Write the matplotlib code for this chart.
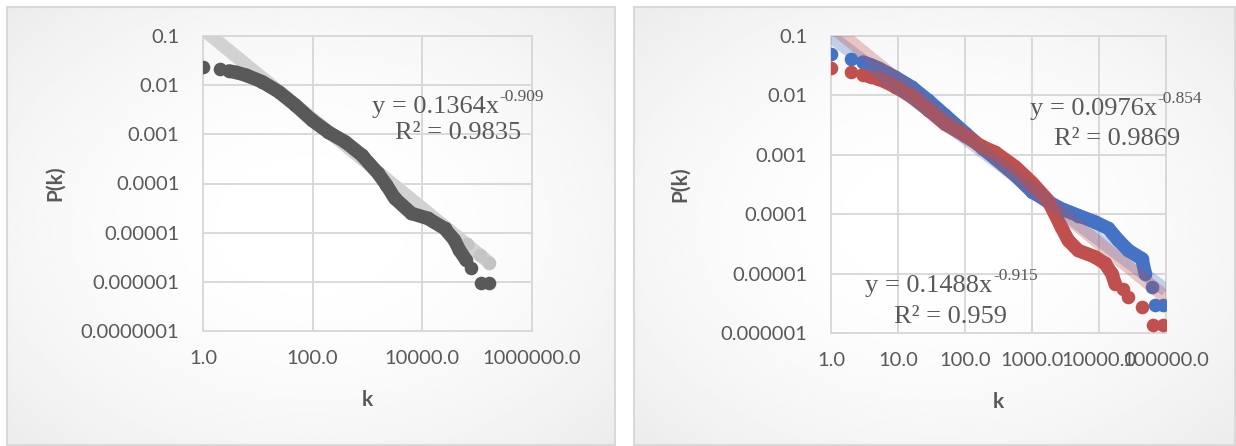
import numpy as np
import matplotlib
matplotlib.use("Agg")
import matplotlib.pyplot as plt
from matplotlib.patches import Rectangle
from matplotlib.ticker import NullLocator, FixedLocator, FixedFormatter

# ---------------- data ----------------
# left chart: degree distribution of the whole network
all_k = [1, 2, 3, 4, 5.96, 12.0, 23.9, 48.1, 96.6, 194, 389, 782, 1560, 2220,
         3140, 6310, 12600, 25400, 38500, 47500, 62800, 77400, 118000, 166000]
all_p = [0.0237, 0.0213, 0.0194, 0.0182, 0.0161, 0.0117, 0.00736, 0.00394,
         0.00195, 0.00110, 7.08e-4, 3.79e-4, 1.61e-4, 9.3e-5, 5.0e-5, 2.47e-5,
         1.95e-5, 1.22e-5, 7.1e-6, 4.4e-6, 2.77e-6, 1.87e-6, 9.3e-7, 9.3e-7]
all_fit = (0.1364, -0.909, 0.9835)
all_fit_kmax = 166000
all_fit_marks_k = [64000, 114000, 166000]

# right chart: two sub-networks
blue_k = [1, 2, 3, 4, 5.1, 9, 16, 28, 50, 100, 178, 282, 562, 1000, 1740,
          2750, 4900, 8710, 13800, 19500, 27500, 43700, 49000, 61000, 68400,
          91200]
blue_p = [0.0504, 0.0414, 0.0363, 0.0324, 0.0288, 0.0204, 0.0138, 0.0083,
          0.00468, 0.00234, 0.00132, 8.7e-4, 4.5e-4, 2.4e-4, 1.62e-4, 1.23e-4,
          9.5e-5, 7.4e-5, 5.75e-5, 3.63e-5, 2.45e-5, 1.78e-5, 1.0e-5, 5.9e-6,
          2.92e-6, 2.92e-6]
red_k = [1, 2, 3, 4, 5.1, 9, 16, 28, 50, 100, 178, 282, 562, 1000, 1740,
         2750, 3470, 4900, 8710, 12300, 15500, 17400, 22900, 27500, 43700,
         64600, 91200]
red_p = [0.0286, 0.0250, 0.0224, 0.0204, 0.0191, 0.0141, 0.0095, 0.00575,
         0.00331, 0.00209, 0.00138, 0.00110, 6.3e-4, 3.4e-4, 1.70e-4, 6.0e-5,
         3.63e-5, 2.45e-5, 1.91e-5, 1.48e-5, 1.0e-5, 6.8e-6, 5.6e-6, 4.0e-6,
         2.75e-6, 1.35e-6, 1.35e-6]
blue_fit = (0.0976, -0.854, 0.9869)
red_fit = (0.1488, -0.915, 0.959)
right_fit_kmax = 100000

left_xticks = [1, 100, 10000, 1000000]
left_xlabels = ["1.0", "100.0", "10000.0", "1000000.0"]
left_yticks = [1e-7, 1e-6, 1e-5, 1e-4, 1e-3, 1e-2, 1e-1]
left_ylabels = ["0.0000001", "0.000001", "0.00001", "0.0001", "0.001", "0.01", "0.1"]
right_xticks = [1, 10, 100, 1000, 10000, 100000]
right_xlabels = ["1.0", "10.0", "100.0", "1000.0", "10000.0", "100000.0"]
right_yticks = [1e-6, 1e-5, 1e-4, 1e-3, 1e-2, 1e-1]
right_ylabels = ["0.000001", "0.00001", "0.0001", "0.001", "0.01", "0.1"]

# ---------------- style ----------------
W, H = 1236, 446
TEXT = "#595959"
GRID = "#d9d9d9"
DARK = "#595959"
BLUE = "#4472c4"
RED = "#c0504d"
SANS = ["Lato", "DejaVu Sans"]
SERIF = ["Liberation Serif", "DejaVu Serif"]
MS = 9.8

fig = plt.figure(figsize=(W / 100, H / 100), dpi=100)


def box(x0, y0, x1, y1):
    return [x0 / W, 1 - y1 / H, (x1 - x0) / W, (y1 - y0) / H]


def panel(x0, y0, x1, y1):
    bg = fig.add_axes(box(x0, y0, x1, y1), zorder=0)
    yy, xx = np.mgrid[-1:1:200j, -1:1:200j]
    shade = 1.0 - 0.075 * (xx ** 2 + yy ** 2) / 2
    bg.imshow(shade, cmap="gray", vmin=0, vmax=1, aspect="auto",
              extent=(0, 1, 0, 1), interpolation="bilinear")
    bg.add_patch(Rectangle((0, 0), 1, 1, transform=bg.transAxes, fill=False,
                           edgecolor=GRID, lw=1.5, clip_on=False))
    bg.set_axis_off()


def chart(rect, xlim, ylim, xt, xl, yt, yl):
    ax = fig.add_axes(rect, zorder=1)
    ax.patch.set_alpha(0)
    ax.set_xscale("log")
    ax.set_yscale("log")
    ax.set_xlim(*xlim)
    ax.set_ylim(*ylim)
    ax.xaxis.set_major_locator(FixedLocator(xt))
    ax.xaxis.set_major_formatter(FixedFormatter(xl))
    ax.yaxis.set_major_locator(FixedLocator(yt))
    ax.yaxis.set_major_formatter(FixedFormatter(yl))
    ax.xaxis.set_minor_locator(NullLocator())
    ax.yaxis.set_minor_locator(NullLocator())
    for s in ax.spines.values():
        s.set_visible(False)
    ax.grid(True, color=GRID, lw=1.4)
    ax.set_axisbelow(True)
    ax.tick_params(length=0, labelsize=14.5, labelcolor=TEXT)
    ax.tick_params(axis="y", pad=17)
    ax.tick_params(axis="x", pad=14)
    for t in ax.get_xticklabels() + ax.get_yticklabels():
        t.set_family(SANS)
    for g in ax.get_xgridlines() + ax.get_ygridlines():
        g.set_clip_on(False)
    ax.text(-0.45, 0.5, "P(k)", transform=ax.transAxes, rotation=90,
            ha="center", va="center", fontsize=15, fontweight="bold",
            color=TEXT, family=SANS)
    ax.text(0.5, -0.234, "k", transform=ax.transAxes, ha="center",
            va="center", fontsize=15, fontweight="bold", color=TEXT,
            family=SANS)
    return ax


def series(ax, k, p, head, tail, color, z):
    k = np.asarray(k, float)
    p = np.asarray(p, float)
    n = len(k)
    ax.plot(k[head - 1:n - tail], p[head - 1:n - tail], "-", color=color,
            lw=MS, solid_capstyle="round", solid_joinstyle="round", zorder=z)
    ax.plot(k, p, "o", ms=MS, color=color, mec="none", zorder=z)


def trend(ax, fit, kmax, color, lw, alpha, z, cap="butt"):
    a, b, _ = fit
    kk = np.logspace(0, np.log10(kmax), 300)
    ax.plot(kk, a * kk ** b, "-", color=color, lw=lw, alpha=alpha,
            solid_capstyle=cap, zorder=z)


def equation(ax, fit, x, y, rx, ry):
    a, b, r2 = fit
    base = fig.text(x / W, 1 - y / H, f"y = {a:g}x", ha="left",
                    va="baseline", fontsize=19, color=TEXT, family=SERIF)
    ax.annotate(f"{b:g}", xy=(1, 0), xycoords=base, xytext=(0.5, 12),
                textcoords="offset points", ha="left", va="baseline",
                fontsize=12.5, color=TEXT, family=SERIF)
    fig.text(rx / W, 1 - ry / H, f"R² = {r2:g}", ha="center", va="baseline",
             fontsize=19, color=TEXT, family=SERIF)


# ---------------- left chart ----------------
panel(7, 7, 615, 445)
axl = chart(box(203, 36, 532, 331), (1, 1e6), (1e-7, 0.1),
            left_xticks, left_xlabels, left_yticks, left_ylabels)
trend(axl, all_fit, all_fit_kmax, "#d2d2d2", 9.5, 1.0, 2, cap="round")
fk = np.asarray(all_fit_marks_k, float)
axl.plot(fk, all_fit[0] * fk ** all_fit[1], "o", ms=MS, color="#c4c4c4",
         mec="none", zorder=2.5)
series(axl, all_k, all_p, 3, 3, DARK, 3)
equation(axl, all_fit, 372, 113, 458, 139)

# ---------------- right chart ----------------
panel(634, 7, 1235, 445)
axr = chart(box(831, 36, 1166, 333), (1, 1e5), (1e-6, 0.1),
            right_xticks, right_xlabels, right_yticks, right_ylabels)
series(axr, blue_k, blue_p, 3, 3, BLUE, 3)
series(axr, red_k, red_p, 3, 5, RED, 4)
trend(axr, blue_fit, right_fit_kmax, BLUE, 9.5, 0.3, 5)
trend(axr, red_fit, right_fit_kmax, RED, 9.5, 0.3, 5)
equation(axr, blue_fit, 1030, 115, 1117, 145)
equation(axr, red_fit, 865, 292, 951, 323)

fig.savefig("out.png", dpi=100)
